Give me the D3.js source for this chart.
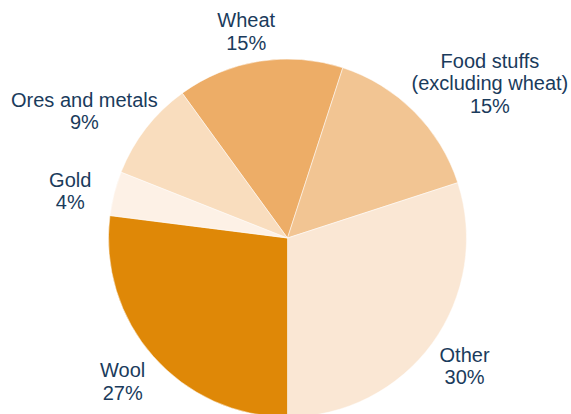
<!DOCTYPE html>
<html>
<head>
<meta charset="utf-8">
<script src="https://cdn.jsdelivr.net/npm/d3@7"></script>
<style>
  html, body { margin: 0; padding: 0; background: #fff; }
  svg { display: block; }
  text { font-family: "Liberation Sans", Arial, Helvetica, sans-serif; }
</style>
</head>
<body>
<svg id="chart" width="571" height="414"></svg>
<script>
// Export shares by commodity (per cent)
const categories = ["Wheat", "Food stuffs", "Other", "Wool", "Gold", "Ores and metals"];
const shares = [15, 15, 30, 27, 4, 9];
const labelLines = [
  ["Wheat"],
  ["Food stuffs", "(excluding wheat)"],
  ["Other"],
  ["Wool"],
  ["Gold"],
  ["Ores and metals"]
];
const sliceColors = ["#EDAD67", "#F2C593", "#FAE7D4", "#DF8807", "#FDF1E6", "#F9DDBE"];

const width = 571, height = 414;
const cx = 287.5, cy = 238, radius = 179;
const lineGap = 22.5;

// Label placement around the pie: angle offset from slice mid-angle (deg) and distance from centre
const labelPlacement = [
  { dAngle: -2.7, dist: 203.5 },
  { dAngle: 8.9,  dist: 250.5 },
  { dAngle: 1.3,  dist: 222.6 },
  { dAngle: -1.0, dist: 223.2 },
  { dAngle: -4.0, dist: 220.9 },
  { dAngle: -7.2, dist: 236.0 }
];

const data = categories.map((c, i) => ({
  name: c, value: shares[i], lines: labelLines[i], color: sliceColors[i], place: labelPlacement[i]
}));

const svg = d3.select("#chart");
const g = svg.append("g").attr("transform", `translate(${cx},${cy})`);

const pie = d3.pie()
  .sort(null)
  .value(d => d.value)
  .startAngle(-0.2 * Math.PI)
  .endAngle(1.8 * Math.PI);

const arc = d3.arc().innerRadius(0).outerRadius(radius);
const arcs = pie(data);

g.selectAll("path.slice")
  .data(arcs)
  .join("path")
  .attr("class", "slice")
  .attr("d", arc)
  .attr("fill", d => d.data.color)
  .attr("stroke", "#ffffff")
  .attr("stroke-width", 0.5)
  .attr("stroke-linejoin", "round");

g.selectAll("text.label")
  .data(arcs)
  .join("text")
  .attr("class", "label")
  .attr("text-anchor", "middle")
  .attr("font-size", 20)
  .attr("fill", "#1A3B5C")
  .each(function(d) {
    const mid = (d.startAngle + d.endAngle) / 2 + d.data.place.dAngle * Math.PI / 180;
    const x = Math.sin(mid) * d.data.place.dist;
    const y = -Math.cos(mid) * d.data.place.dist;
    const lines = d.data.lines.concat([d.data.value + "%"]);
    const first = y - (lines.length - 1) * lineGap / 2;
    const t = d3.select(this);
    lines.forEach((ln, i) => {
      t.append("tspan")
        .attr("x", x)
        .attr("y", first + i * lineGap)
        .text(ln);
    });
  });
</script>
</body>
</html>
